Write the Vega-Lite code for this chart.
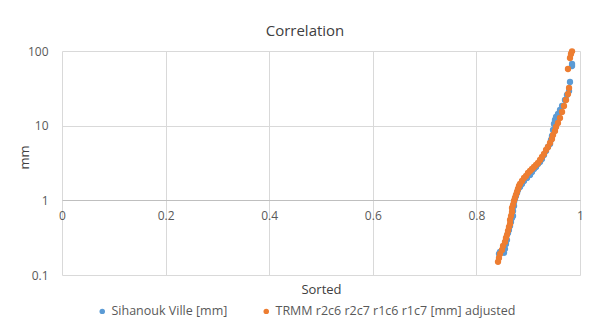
{
  "$schema": "https://vega.github.io/schema/vega-lite/v6.json",
  "width": 518,
  "height": 224,
  "autosize": "none",
  "padding": {"left": 62, "top": 51, "right": 14, "bottom": 54},
  "background": "white",
  "title": {"text": "Correlation", "fontSize": 15, "font": "Open Sans", "fontWeight": "normal", "color": "#404040", "anchor": "middle", "dx": -16, "offset": 6},
  "datasets": {
    "pts": [
      {"x": 0.8436, "y": 0.192, "s": "Sihanouk Ville [mm]"},
      {"x": 0.8456, "y": 0.204, "s": "Sihanouk Ville [mm]"},
      {"x": 0.8494, "y": 0.204, "s": "Sihanouk Ville [mm]"},
      {"x": 0.8533, "y": 0.198, "s": "Sihanouk Ville [mm]"},
      {"x": 0.8552, "y": 0.224, "s": "Sihanouk Ville [mm]"},
      {"x": 0.8571, "y": 0.261, "s": "Sihanouk Ville [mm]"},
      {"x": 0.8591, "y": 0.295, "s": "Sihanouk Ville [mm]"},
      {"x": 0.8610, "y": 0.366, "s": "Sihanouk Ville [mm]"},
      {"x": 0.8629, "y": 0.402, "s": "Sihanouk Ville [mm]"},
      {"x": 0.8649, "y": 0.454, "s": "Sihanouk Ville [mm]"},
      {"x": 0.8668, "y": 0.514, "s": "Sihanouk Ville [mm]"},
      {"x": 0.8687, "y": 0.581, "s": "Sihanouk Ville [mm]"},
      {"x": 0.8707, "y": 0.618, "s": "Sihanouk Ville [mm]"},
      {"x": 0.8707, "y": 0.721, "s": "Sihanouk Ville [mm]"},
      {"x": 0.8726, "y": 0.841, "s": "Sihanouk Ville [mm]"},
      {"x": 0.8726, "y": 0.952, "s": "Sihanouk Ville [mm]"},
      {"x": 0.8745, "y": 1.044, "s": "Sihanouk Ville [mm]"},
      {"x": 0.8764, "y": 1.145, "s": "Sihanouk Ville [mm]"},
      {"x": 0.8784, "y": 1.256, "s": "Sihanouk Ville [mm]"},
      {"x": 0.8803, "y": 1.378, "s": "Sihanouk Ville [mm]"},
      {"x": 0.8842, "y": 1.511, "s": "Sihanouk Ville [mm]"},
      {"x": 0.8880, "y": 1.658, "s": "Sihanouk Ville [mm]"},
      {"x": 0.8919, "y": 1.818, "s": "Sihanouk Ville [mm]"},
      {"x": 0.8977, "y": 1.994, "s": "Sihanouk Ville [mm]"},
      {"x": 0.9035, "y": 2.188, "s": "Sihanouk Ville [mm]"},
      {"x": 0.9073, "y": 2.400, "s": "Sihanouk Ville [mm]"},
      {"x": 0.9112, "y": 2.633, "s": "Sihanouk Ville [mm]"},
      {"x": 0.9151, "y": 2.800, "s": "Sihanouk Ville [mm]"},
      {"x": 0.9189, "y": 3.071, "s": "Sihanouk Ville [mm]"},
      {"x": 0.9228, "y": 3.267, "s": "Sihanouk Ville [mm]"},
      {"x": 0.9266, "y": 3.583, "s": "Sihanouk Ville [mm]"},
      {"x": 0.9305, "y": 4.053, "s": "Sihanouk Ville [mm]"},
      {"x": 0.9344, "y": 4.585, "s": "Sihanouk Ville [mm]"},
      {"x": 0.9382, "y": 5.186, "s": "Sihanouk Ville [mm]"},
      {"x": 0.9421, "y": 5.689, "s": "Sihanouk Ville [mm]"},
      {"x": 0.9440, "y": 6.435, "s": "Sihanouk Ville [mm]"},
      {"x": 0.9459, "y": 7.279, "s": "Sihanouk Ville [mm]"},
      {"x": 0.9479, "y": 8.757, "s": "Sihanouk Ville [mm]"},
      {"x": 0.9498, "y": 10.54, "s": "Sihanouk Ville [mm]"},
      {"x": 0.9517, "y": 11.92, "s": "Sihanouk Ville [mm]"},
      {"x": 0.9537, "y": 13.08, "s": "Sihanouk Ville [mm]"},
      {"x": 0.9575, "y": 14.34, "s": "Sihanouk Ville [mm]"},
      {"x": 0.9614, "y": 16.23, "s": "Sihanouk Ville [mm]"},
      {"x": 0.9653, "y": 18.35, "s": "Sihanouk Ville [mm]"},
      {"x": 0.9710, "y": 22.08, "s": "Sihanouk Ville [mm]"},
      {"x": 0.9749, "y": 25.76, "s": "Sihanouk Ville [mm]"},
      {"x": 0.9788, "y": 29.14, "s": "Sihanouk Ville [mm]"},
      {"x": 0.9807, "y": 38.46, "s": "Sihanouk Ville [mm]"},
      {"x": 0.9846, "y": 62.98, "s": "Sihanouk Ville [mm]"},
      {"x": 0.9846, "y": 66.99, "s": "Sihanouk Ville [mm]"},
      {"x": 0.8417, "y": 0.150, "s": "TRMM r2c6 r2c7 r1c6 r1c7 [mm] adjusted"},
      {"x": 0.8436, "y": 0.169, "s": "TRMM r2c6 r2c7 r1c6 r1c7 [mm] adjusted"},
      {"x": 0.8456, "y": 0.192, "s": "TRMM r2c6 r2c7 r1c6 r1c7 [mm] adjusted"},
      {"x": 0.8494, "y": 0.217, "s": "TRMM r2c6 r2c7 r1c6 r1c7 [mm] adjusted"},
      {"x": 0.8514, "y": 0.245, "s": "TRMM r2c6 r2c7 r1c6 r1c7 [mm] adjusted"},
      {"x": 0.8552, "y": 0.277, "s": "TRMM r2c6 r2c7 r1c6 r1c7 [mm] adjusted"},
      {"x": 0.8571, "y": 0.314, "s": "TRMM r2c6 r2c7 r1c6 r1c7 [mm] adjusted"},
      {"x": 0.8591, "y": 0.344, "s": "TRMM r2c6 r2c7 r1c6 r1c7 [mm] adjusted"},
      {"x": 0.8610, "y": 0.390, "s": "TRMM r2c6 r2c7 r1c6 r1c7 [mm] adjusted"},
      {"x": 0.8629, "y": 0.440, "s": "TRMM r2c6 r2c7 r1c6 r1c7 [mm] adjusted"},
      {"x": 0.8649, "y": 0.483, "s": "TRMM r2c6 r2c7 r1c6 r1c7 [mm] adjusted"},
      {"x": 0.8649, "y": 0.547, "s": "TRMM r2c6 r2c7 r1c6 r1c7 [mm] adjusted"},
      {"x": 0.8668, "y": 0.618, "s": "TRMM r2c6 r2c7 r1c6 r1c7 [mm] adjusted"},
      {"x": 0.8687, "y": 0.700, "s": "TRMM r2c6 r2c7 r1c6 r1c7 [mm] adjusted"},
      {"x": 0.8687, "y": 0.791, "s": "TRMM r2c6 r2c7 r1c6 r1c7 [mm] adjusted"},
      {"x": 0.8707, "y": 0.868, "s": "TRMM r2c6 r2c7 r1c6 r1c7 [mm] adjusted"},
      {"x": 0.8726, "y": 0.982, "s": "TRMM r2c6 r2c7 r1c6 r1c7 [mm] adjusted"},
      {"x": 0.8745, "y": 1.077, "s": "TRMM r2c6 r2c7 r1c6 r1c7 [mm] adjusted"},
      {"x": 0.8764, "y": 1.181, "s": "TRMM r2c6 r2c7 r1c6 r1c7 [mm] adjusted"},
      {"x": 0.8784, "y": 1.295, "s": "TRMM r2c6 r2c7 r1c6 r1c7 [mm] adjusted"},
      {"x": 0.8803, "y": 1.421, "s": "TRMM r2c6 r2c7 r1c6 r1c7 [mm] adjusted"},
      {"x": 0.8822, "y": 1.559, "s": "TRMM r2c6 r2c7 r1c6 r1c7 [mm] adjusted"},
      {"x": 0.8842, "y": 1.658, "s": "TRMM r2c6 r2c7 r1c6 r1c7 [mm] adjusted"},
      {"x": 0.8880, "y": 1.818, "s": "TRMM r2c6 r2c7 r1c6 r1c7 [mm] adjusted"},
      {"x": 0.8919, "y": 1.994, "s": "TRMM r2c6 r2c7 r1c6 r1c7 [mm] adjusted"},
      {"x": 0.8958, "y": 2.121, "s": "TRMM r2c6 r2c7 r1c6 r1c7 [mm] adjusted"},
      {"x": 0.8996, "y": 2.327, "s": "TRMM r2c6 r2c7 r1c6 r1c7 [mm] adjusted"},
      {"x": 0.9035, "y": 2.476, "s": "TRMM r2c6 r2c7 r1c6 r1c7 [mm] adjusted"},
      {"x": 0.9073, "y": 2.633, "s": "TRMM r2c6 r2c7 r1c6 r1c7 [mm] adjusted"},
      {"x": 0.9112, "y": 2.800, "s": "TRMM r2c6 r2c7 r1c6 r1c7 [mm] adjusted"},
      {"x": 0.9151, "y": 2.978, "s": "TRMM r2c6 r2c7 r1c6 r1c7 [mm] adjusted"},
      {"x": 0.9189, "y": 3.168, "s": "TRMM r2c6 r2c7 r1c6 r1c7 [mm] adjusted"},
      {"x": 0.9228, "y": 3.474, "s": "TRMM r2c6 r2c7 r1c6 r1c7 [mm] adjusted"},
      {"x": 0.9266, "y": 3.811, "s": "TRMM r2c6 r2c7 r1c6 r1c7 [mm] adjusted"},
      {"x": 0.9305, "y": 4.180, "s": "TRMM r2c6 r2c7 r1c6 r1c7 [mm] adjusted"},
      {"x": 0.9344, "y": 4.728, "s": "TRMM r2c6 r2c7 r1c6 r1c7 [mm] adjusted"},
      {"x": 0.9382, "y": 5.186, "s": "TRMM r2c6 r2c7 r1c6 r1c7 [mm] adjusted"},
      {"x": 0.9421, "y": 5.867, "s": "TRMM r2c6 r2c7 r1c6 r1c7 [mm] adjusted"},
      {"x": 0.9459, "y": 6.637, "s": "TRMM r2c6 r2c7 r1c6 r1c7 [mm] adjusted"},
      {"x": 0.9479, "y": 7.507, "s": "TRMM r2c6 r2c7 r1c6 r1c7 [mm] adjusted"},
      {"x": 0.9517, "y": 8.492, "s": "TRMM r2c6 r2c7 r1c6 r1c7 [mm] adjusted"},
      {"x": 0.9537, "y": 9.607, "s": "TRMM r2c6 r2c7 r1c6 r1c7 [mm] adjusted"},
      {"x": 0.9575, "y": 10.87, "s": "TRMM r2c6 r2c7 r1c6 r1c7 [mm] adjusted"},
      {"x": 0.9614, "y": 12.68, "s": "TRMM r2c6 r2c7 r1c6 r1c7 [mm] adjusted"},
      {"x": 0.9653, "y": 15.26, "s": "TRMM r2c6 r2c7 r1c6 r1c7 [mm] adjusted"},
      {"x": 0.9691, "y": 18.35, "s": "TRMM r2c6 r2c7 r1c6 r1c7 [mm] adjusted"},
      {"x": 0.9730, "y": 22.08, "s": "TRMM r2c6 r2c7 r1c6 r1c7 [mm] adjusted"},
      {"x": 0.9768, "y": 26.57, "s": "TRMM r2c6 r2c7 r1c6 r1c7 [mm] adjusted"},
      {"x": 0.9788, "y": 31.97, "s": "TRMM r2c6 r2c7 r1c6 r1c7 [mm] adjusted"},
      {"x": 0.9768, "y": 57.4, "s": "TRMM r2c6 r2c7 r1c6 r1c7 [mm] adjusted"},
      {"x": 0.9807, "y": 80.6, "s": "TRMM r2c6 r2c7 r1c6 r1c7 [mm] adjusted"},
      {"x": 0.9826, "y": 91.1, "s": "TRMM r2c6 r2c7 r1c6 r1c7 [mm] adjusted"},
      {"x": 0.9846, "y": 99.0, "s": "TRMM r2c6 r2c7 r1c6 r1c7 [mm] adjusted"}
    ]
  },
  "data": {"name": "pts"},
  "mark": {"type": "circle", "size": 40, "opacity": 1},
  "encoding": {
    "x": {
      "field": "x", "type": "quantitative", "title": "Sorted",
      "scale": {"domain": [0, 1], "nice": false, "zero": false},
      "axis": {
        "values": [0, 0.2, 0.4, 0.6, 0.8, 1], "format": "~g", "labelFlush": false,
        "offset": -75, "grid": true, "gridColor": "#D9D9D9",
        "domainColor": "#BFBFBF", "ticks": false, "labelPadding": 10,
        "labelColor": "#595959", "labelFontSize": 12, "labelFont": "Open Sans",
        "titleFont": "Open Sans", "titleFontSize": 13, "titleFontWeight": "normal", "titleColor": "#404040",
        "titleBaseline": "middle", "titleY": 89
      }
    },
    "y": {
      "field": "y", "type": "quantitative", "title": "mm",
      "scale": {"type": "log", "domain": [0.1, 100], "nice": false},
      "axis": {
        "values": [0.1, 1, 10, 100], "format": "~g", "labelFlush": false,
        "grid": true, "gridColor": "#D9D9D9", "domain": false, "ticks": false,
        "labelPadding": 14, "labelColor": "#595959", "labelFontSize": 12, "labelFont": "Open Sans",
        "titleFont": "Open Sans", "titleFontSize": 13, "titleFontWeight": "normal", "titleColor": "#404040",
        "titleX": -38, "titleY": 106, "titleBaseline": "middle"
      }
    },
    "color": {
      "field": "s", "type": "nominal",
      "scale": {"domain": ["Sihanouk Ville [mm]", "TRMM r2c6 r2c7 r1c6 r1c7 [mm] adjusted"], "range": ["#5B9BD5", "#ED7D31"]},
      "legend": {
        "title": null, "orient": "none", "legendX": 34, "legendY": 254, "direction": "horizontal",
        "symbolType": "circle", "symbolSize": 30, "labelFontSize": 12.5, "labelFont": "Open Sans",
        "labelColor": "#595959", "columnPadding": 32, "labelOffset": 3, "labelLimit": 400, "symbolOpacity": 1
      }
    }
  },
  "config": {"view": {"stroke": null}}
}
